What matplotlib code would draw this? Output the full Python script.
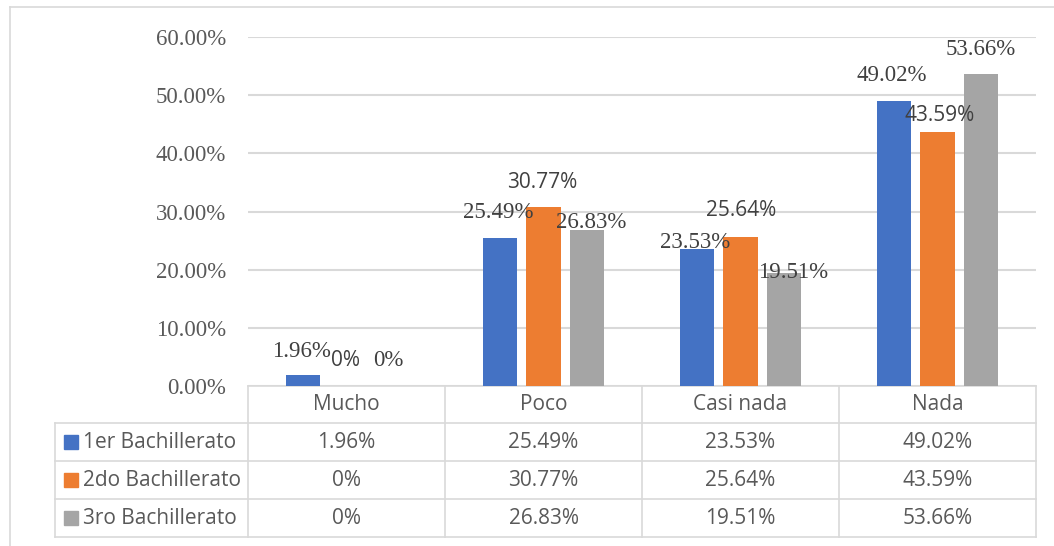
import matplotlib.pyplot as plt
import numpy as np

categories = ["Mucho", "Poco", "Casi nada", "Nada"]
series = ["1er Bachillerato", "2do Bachillerato", "3ro Bachillerato"]
bach1 = [1.96, 25.49, 23.53, 49.02]
bach2 = [0, 30.77, 25.64, 43.59]
bach3 = [0, 26.83, 19.51, 53.66]
values = [bach1, bach2, bach3]
colors = ["#4472C4", "#ED7D31", "#A5A5A5"]

# label nudges in pixels (dx, dy) from the top centre of each bar
nudges = [
    [(-1, 23), (-1, 25), (-1, 7), (-2, 25)],
    [(-1, 25), (-1, 25), (1, 26), (2, 17)],
    [(-2, 25), (4, 7), (9, 0), (-1, 24)],
]

W, H = 1054, 546
grid_c = "#D9D9D9"
text_c = "#595959"
serif = ["Liberation Serif", "DejaVu Serif"]
sans = ["Open Sans", "DejaVu Sans"]
# the orange series' labels are in the sans font in the original
label_fonts = [(serif, 16.5), (sans, 15), (serif, 16.5)]


def fmt(v):
    return "0%" if v == 0 else f"{v:.2f}%"


fig = plt.figure(figsize=(W / 100, H / 100), dpi=100)

left, right, top, bottom = 248, 1036, 37, 386
ax = fig.add_axes([left / W, 1 - bottom / H, (right - left) / W, (bottom - top) / H])

x = np.arange(len(categories))
bw = 0.173
step = 0.223
for i, vals in enumerate(values):
    bars = ax.bar(x + (i - 1) * step, vals, width=bw, color=colors[i], zorder=3)
    fam, fs = label_fonts[i]
    for j, b in enumerate(bars):
        dx, dy = nudges[i][j]
        ax.annotate(fmt(vals[j]), (b.get_x() + b.get_width() / 2, b.get_height()),
                    xytext=(dx, dy), textcoords="offset pixels",
                    ha="center", va="center", fontsize=fs, family=fam,
                    color="#404040", zorder=4)

ax.set_xlim(-0.5, 3.5)
ax.set_ylim(0, 60)
ax.set_yticks(range(0, 61, 10))
ax.set_yticklabels([f"{t:.2f}%" for t in range(0, 61, 10)], family=serif,
                   fontsize=16.5, color=text_c)
ax.set_xticks([])
ax.tick_params(axis="y", length=0, pad=16)
ax.grid(axis="y", color=grid_c, linewidth=1.5, zorder=0)
for s in ax.spines.values():
    s.set_visible(False)

# data table + frame drawn in pixel space
tb = fig.add_axes([0, 0, 1, 1], zorder=-1)
tb.set_xlim(0, W)
tb.set_ylim(H, 0)
tb.axis("off")

lw = 1.2
tb.plot([10, 10], [7, H], color=grid_c, lw=lw)
tb.plot([10, W], [7, 7], color=grid_c, lw=lw)

col_edges = np.linspace(left, right, len(categories) + 1)
row_edges = [386, 423, 461, 499, 537]
lab_left = 55

tb.plot([left, right], [row_edges[0], row_edges[0]], color=grid_c, lw=lw)
for yy in row_edges[1:]:
    tb.plot([lab_left, right], [yy, yy], color=grid_c, lw=lw)
for xx in col_edges:
    tb.plot([xx, xx], [row_edges[0], row_edges[-1]], color=grid_c, lw=lw)
tb.plot([lab_left, lab_left], [row_edges[1], row_edges[-1]], color=grid_c, lw=lw)

col_centres = (col_edges[:-1] + col_edges[1:]) / 2
for j, cat in enumerate(categories):
    tb.text(col_centres[j], (row_edges[0] + row_edges[1]) / 2, cat, ha="center",
            va="center", fontsize=15, family=sans, color=text_c)

for i, name in enumerate(series):
    yc = (row_edges[i + 1] + row_edges[i + 2]) / 2
    tb.add_patch(plt.Rectangle((64, yc - 7), 14, 14, color=colors[i]))
    tb.text(83, yc, name, ha="left", va="center", fontsize=15, family=sans, color=text_c)
    for j, v in enumerate(values[i]):
        tb.text(col_centres[j], yc, fmt(v), ha="center", va="center",
                fontsize=15, family=sans, color=text_c)

fig.savefig("out.png", dpi=100)
